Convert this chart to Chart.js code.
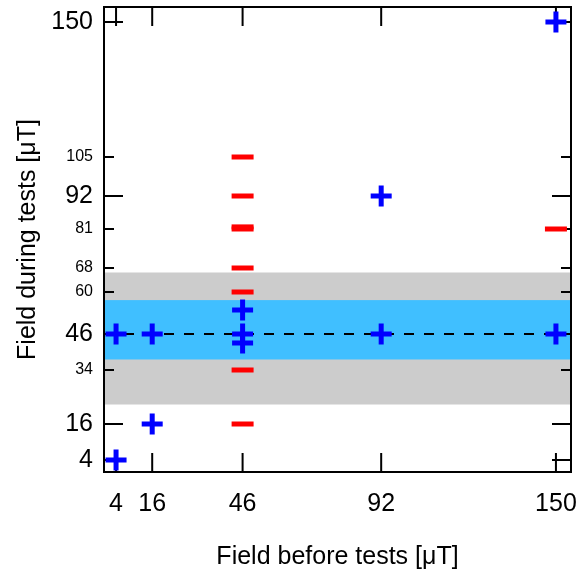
<!DOCTYPE html>
<html>
<head>
<meta charset="utf-8">
<script src="https://cdn.jsdelivr.net/npm/chart.js@4/dist/chart.umd.min.js"></script>
<style>
    html, body { margin: 0; padding: 0; background: #fff; }
</style>
</head>
<body>
<canvas id="chart" width="578" height="575"></canvas>
<script>
(function () {
    "use strict";

    // ======================================================================
    // Data
    //
    const xTicks = [4, 16, 46, 92, 150];
    const yTicks = [4, 16, 34, 46, 60, 68, 81, 92, 105, 150];
    const majorTicks = [4, 16, 46, 92, 150];

    // measurements inside tolerance (blue crosses)
    const blueX = [4, 4, 16, 16, 46, 46, 46, 92, 92, 150, 150];
    const blueY = [4, 46, 46, 16, 54, 46, 43, 92, 46, 150, 46];

    // failed measurements (red dashes)
    const redX = [46, 46, 46, 46, 46, 46, 46, 46, 150];
    const redY = [105, 92, 81, 81.7, 68, 60, 34, 16, 81];

    const refLevel = 46;
    const grayBand = [22.5, 66.5];
    const blueBand = [37.5, 57.3];
    const axisMin = 0, axisMax = 155;

    const FONT = "'Liberation Sans', Arial, sans-serif";

    // ======================================================================
    // Plugin: bands, frame and inward ticks
    //
    const framePlugin = {
        id: 'frame',
        beforeDatasetsDraw(chart) {
            const { ctx, chartArea: a, scales: { x, y } } = chart;
            ctx.save();

            [[grayBand, '#cccccc'], [blueBand, '#40bfff']].forEach(([b, c]) => {
                const y0 = y.getPixelForValue(b[0]), y1 = y.getPixelForValue(b[1]);
                ctx.fillStyle = c;
                ctx.fillRect(a.left, y1, a.right - a.left, y0 - y1);
            });

            ctx.strokeStyle = '#000';
            ctx.lineWidth = 2;
            ctx.strokeRect(a.left, a.top, a.right - a.left, a.bottom - a.top);

            ctx.beginPath();
            x.ticks.forEach(t => {
                const px = x.getPixelForValue(t.value),
                    len = majorTicks.includes(t.value) ? 19 : 10;
                ctx.moveTo(px, a.bottom); ctx.lineTo(px, a.bottom - len);
                ctx.moveTo(px, a.top); ctx.lineTo(px, a.top + len);
            });
            y.ticks.forEach(t => {
                const py = y.getPixelForValue(t.value),
                    len = majorTicks.includes(t.value) ? 19 : 10;
                ctx.moveTo(a.left, py); ctx.lineTo(a.left + len, py);
                ctx.moveTo(a.right, py); ctx.lineTo(a.right - len, py);
            });
            ctx.stroke();
            ctx.restore();
        }
    };

    const noPad = s => {
        s.paddingTop = 0;
        s.paddingBottom = 0;
        s.paddingLeft = 0;
        s.paddingRight = 0;
    };

    // ======================================================================
    // Chart
    //
    new Chart(document.getElementById('chart'), {
        type: 'scatter',
        plugins: [framePlugin],
        data: {
            datasets: [
                {
                    label: 'reference',
                    data: [{ x: axisMin, y: refLevel }, { x: axisMax, y: refLevel }],
                    showLine: true,
                    borderColor: '#000',
                    borderWidth: 2,
                    borderDash: [10, 10],
                    pointRadius: 0,
                    order: 3
                },
                {
                    label: 'fail',
                    data: redX.map((v, i) => ({ x: v, y: redY[i] })),
                    pointStyle: 'line',
                    pointRadius: 11,
                    borderColor: '#ff0000',
                    backgroundColor: '#ff0000',
                    pointBorderWidth: 5,
                    order: 2
                },
                {
                    label: 'pass',
                    data: blueX.map((v, i) => ({ x: v, y: blueY[i] })),
                    pointStyle: 'cross',
                    pointRadius: 10.5,
                    borderColor: '#0000ff',
                    backgroundColor: '#0000ff',
                    pointBorderWidth: 5,
                    order: 1
                }
            ]
        },
        options: {
            responsive: false,
            animation: false,
            devicePixelRatio: 1,
            layout: { autoPadding: false, padding: { top: 7, right: 7, left: 0, bottom: 0 } },
            plugins: {
                legend: { display: false },
                tooltip: { enabled: false }
            },
            scales: {
                x: {
                    type: 'linear',
                    min: axisMin,
                    max: axisMax,
                    afterBuildTicks: s => { s.ticks = xTicks.map(v => ({ value: v })); },
                    afterFit: s => { s.height = 103; noPad(s); },
                    grid: { display: false, drawTicks: false },
                    border: { display: false },
                    ticks: {
                        color: '#000',
                        padding: 17,
                        maxRotation: 0,
                        autoSkip: false,
                        font: { family: FONT, size: 25 }
                    },
                    title: {
                        display: true,
                        text: 'Field before tests [μT]',
                        color: '#000',
                        font: { family: FONT, size: 25 },
                        padding: { top: 0, bottom: 3 }
                    }
                },
                y: {
                    type: 'linear',
                    min: axisMin,
                    max: axisMax,
                    afterBuildTicks: s => { s.ticks = yTicks.map(v => ({ value: v })); },
                    afterFit: s => { s.width = 104; noPad(s); },
                    grid: { display: false, drawTicks: false },
                    border: { display: false },
                    ticks: {
                        color: '#000',
                        padding: 11,
                        autoSkip: false,
                        font: ctx => ({
                            family: FONT,
                            size: ctx.tick && majorTicks.includes(ctx.tick.value) ? 25 : 16
                        })
                    },
                    title: {
                        display: true,
                        text: 'Field during tests [μT]',
                        color: '#000',
                        font: { family: FONT, size: 25 },
                        padding: { top: 13, bottom: 0 }
                    }
                }
            }
        }
    });
})();
</script>
</body>
</html>
